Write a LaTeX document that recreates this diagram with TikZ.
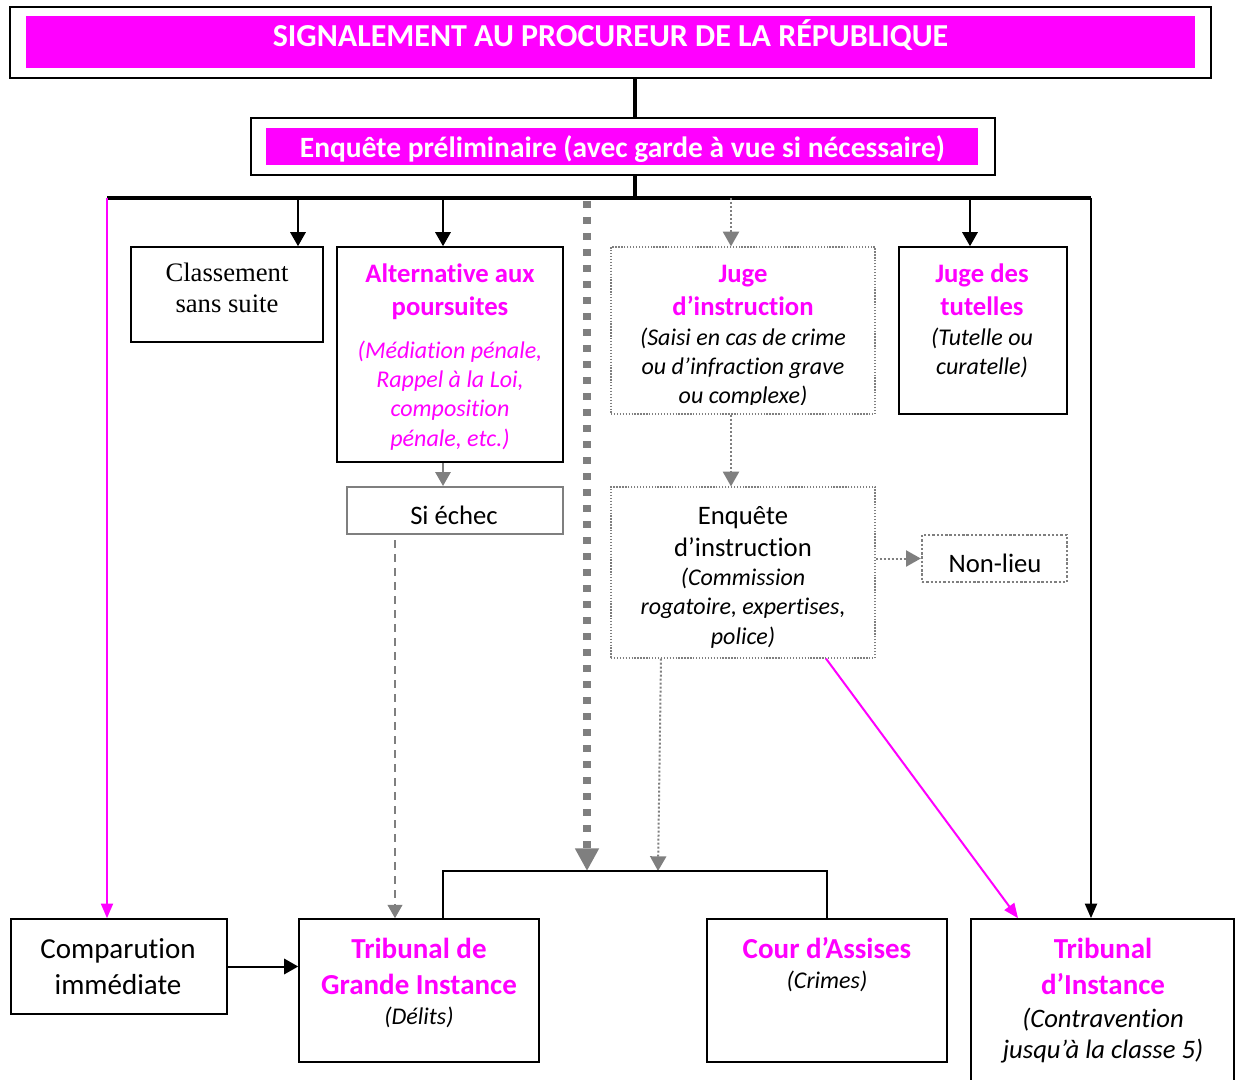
\documentclass[tikz,border=0pt]{standalone}
\usepackage{fontspec}
\setmainfont[Ligatures=NoCommon]{Carlito}
\newfontfamily\tnr{Liberation Serif}
\usetikzlibrary{arrows.meta,fit}
\definecolor{mag}{HTML}{FF00FF}
\definecolor{gr}{HTML}{7F7F7F}
\tikzset{
  box/.style={draw, line width=1.2pt, inner sep=0pt},
  dbox/.style={draw=gr, line width=0.9pt, dash pattern=on 1pt off 1.2pt, inner sep=0pt},
  txt/.style={anchor=base, align=center, inner sep=0pt},
  hdA/.style={txt, text=mag, font=\bfseries\fontsize{20pt}{24.75pt}\selectfont},
  hdB/.style={txt, text=mag, font=\bfseries\fontsize{21.75pt}{27pt}\selectfont},
  itA/.style={txt, font=\itshape\fontsize{18pt}{22pt}\selectfont},
  itB/.style={txt, font=\itshape\fontsize{20pt}{23.25pt}\selectfont},
  rgA/.style={txt, font=\fontsize{20pt}{24pt}\selectfont},
  rgB/.style={txt, font=\fontsize{21.75pt}{27pt}\selectfont},
  blk/.style={line width=1.5pt, -{Triangle[length=10.5pt,width=11.5pt]}},
  grarr/.style={gr, line width=1.5pt, -{Triangle[length=10.5pt,width=11.5pt]}},
  grdot/.style={gr, line width=1.5pt, dash pattern=on 1.5pt off 1.5pt, -{Triangle[length=11pt,width=12pt]}},
  magarr/.style={mag, line width=1.5pt, -{Triangle[length=11pt,width=9pt]}},
}
\begin{document}
\begin{tikzpicture}[x=0.75pt,y=-0.75pt]
\useasboundingbox (0,0) rectangle (1235,1080);

% ---- boxes
\node[box, line width=1.5pt, fit={(10,7) (1211,78)}] (sig) {};
\node[fill=mag, inner sep=0pt, fit={(26,16) (1195,68)}] (sigf) {};
\node[box, line width=1.5pt, fit={(251,118) (995,175)}] (enq) {};
\node[fill=mag, inner sep=0pt, fit={(266,128) (978,165)}] (enqf) {};

\node[box, fit={(131,247) (323,342)}] (cls) {};
\node[box, fit={(337,247) (563,462)}] (alt) {};
\node[draw=gr, line width=1.5pt, inner sep=0pt, fit={(347,487) (563,534)}] (sie) {};
\node[dbox, fit={(611,247) (875,414)}] (ji) {};
\node[dbox, fit={(611,487) (875,658)}] (ei) {};
\node[dbox, line width=1.8pt, dash pattern=on 1.8pt off 1.4pt, fit={(922,535) (1067,582)}] (nl) {};
\node[box, fit={(899,247) (1067,414)}] (jt) {};
\node[box, fit={(11,919) (227,1014)}] (comp) {};
\node[box, fit={(299,919) (539,1062)}] (tgi) {};
\node[box, fit={(707,919) (947,1062)}] (cour) {};
\node[box, fit={(971,919) (1234,1090)}] (ti) {};

% ---- coordinates
\coordinate (trunk) at (635,0);
\coordinate (barL) at (107,198);
\coordinate (barR) at (1091,198);
\coordinate (brL) at (443,871);
\coordinate (brR) at (827,871);
\coordinate (bigd) at (587,201);
\coordinate (dx) at (395,540);
\coordinate (ex) at (661,0);
\coordinate (ejoin) at (658,871);
\coordinate (mx) at (826,0);
\coordinate (mend) at (1018,0);
\coordinate (xc) at (298,0);
\coordinate (xa) at (443,0);
\coordinate (xj) at (731,0);
\coordinate (xt) at (970,0);

% ---- connectors
\draw[line width=2.3pt] (sig.south -| trunk) -- (enq.north -| trunk);
\draw[line width=3pt] (enq.south -| trunk) -- (trunk |- barL);
\draw[line width=3pt] (barL) -- (barR);
\draw[blk] (barL -| xc) -- (cls.north -| xc);
\draw[blk] (barL -| xa) -- (alt.north -| xa);
\draw[blk] (barL -| xt) -- (jt.north -| xt);
\draw[grdot] (barL -| xj) -- (ji.north -| xj);
\draw[grdot] (ji.south -| xj) -- (ei.north -| xj);
\draw[grdot] (ei.east |- nl.west) -- (nl.west);
\draw[magarr] (barL) -- (barL |- comp.north);
\draw[line width=1.8pt, -{Triangle[length=11pt,width=9pt]}] (barR) -- (barR |- ti.north);
\draw[grarr] (alt.south -| xa) -- (sie.north -| xa);
\draw[gr, line width=1.5pt, dash pattern=on 6pt off 4.5pt, -{Triangle[length=10pt,width=11pt]}] (dx) -- (dx |- tgi.north);
\draw[gr, line width=5.5pt, dash pattern=on 5.25pt off 6.75pt, -{Triangle[length=17pt,width=17pt]}] (bigd) -- (bigd |- brL);
\draw[grdot] (ei.south -| ex) -- (ejoin);
\draw[magarr] (ei.south -| mx) -- (ti.north -| mend);
\draw[line width=1.5pt] (tgi.north -| brL) -- (brL) -- (brR) -- (cour.north -| brR);
\draw[blk] (comp.east) -- (tgi.west |- comp.east);

% ---- texts (multi-line nodes are placed at the baseline of their last line)
\node[txt, text=white, font=\bfseries\fontsize{24pt}{28pt}\selectfont] (sigt) at (610.5,47) {SIGNALEMENT AU PROCUREUR DE LA RÉPUBLIQUE};
\node[txt, text=white, font=\bfseries\fontsize{22.1pt}{26pt}\selectfont] (enqt) at (622.5,158) {Enquête préliminaire (avec garde à vue si nécessaire)};

\node[txt, font=\tnr\fontsize{20pt}{23.25pt}\selectfont] (clst) at (227,313) {Classement\\sans suite};

\node[hdA] (altt) at (450,316) {Alternative aux\\poursuites};
\node[itA, text=mag] (alts) at (450,446) {(Médiation pénale,\\Rappel à la Loi,\\composition\\pénale, etc.)};

\node[rgA] (siet) at (454,524) {Si échec};

\node[hdA] (jit) at (743,316) {Juge\\d’instruction};
\begin{scope}
\clip (611,247) rectangle (875,405);
\node[itA] (jis) at (743,404) {(Saisi en cas de crime\\ou d’infraction grave\\ou complexe)};
\end{scope}

\node[rgA] (eit) at (743,556) {Enquête\\d’instruction};
\node[itA] (eis) at (743,644) {(Commission\\rogatoire, expertises,\\police)};

\node[rgA] (nlt) at (995,572) {Non-lieu};

\node[hdA] (jtt) at (982,316) {Juge des\\tutelles};
\node[itA] (jts) at (982,375) {(Tutelle ou\\curatelle)};

\node[rgB] (compt) at (118,994) {Comparution\\immédiate};

\node[hdB] (tgit) at (419,994) {Tribunal de\\Grande Instance};
\node[itA] (tgis) at (419,1024) {(Délits)};

\node[hdB] (court) at (827,958) {Cour d’Assises};
\node[itA] (cours) at (827,988) {(Crimes)};

\node[hdB] (tit) at (1103,994) {Tribunal\\d’Instance};
\node[itB] (tis) at (1103,1058) {(Contravention\\jusqu’à la classe 5)};
\end{tikzpicture}
\end{document}
